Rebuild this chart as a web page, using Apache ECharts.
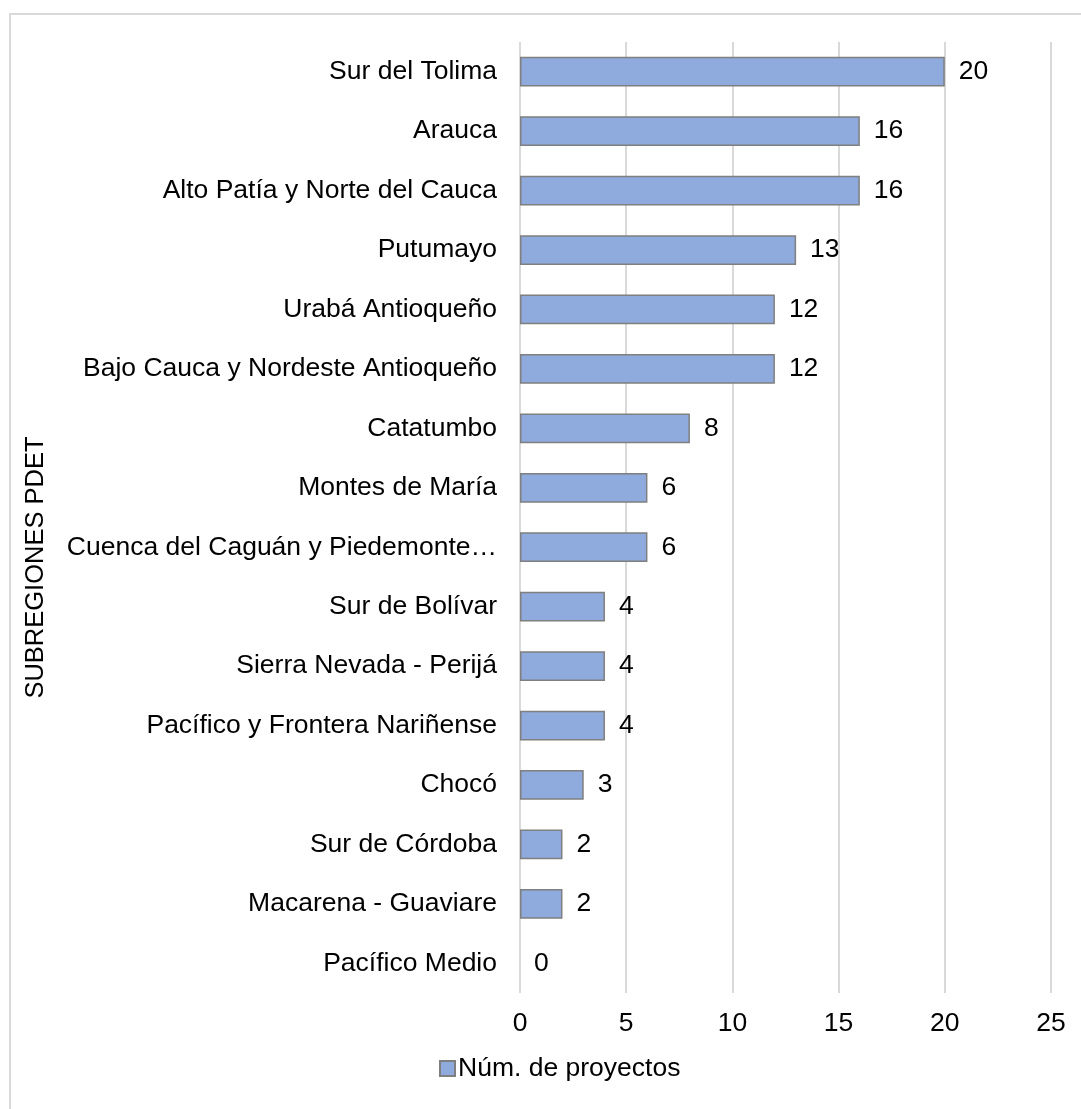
<!DOCTYPE html>
<html>
<head>
<meta charset="utf-8">
<script src="https://cdn.jsdelivr.net/npm/echarts@6/dist/echarts.min.js"></script>
<style>
html,body{margin:0;padding:0;background:#fff;}
#frame{position:absolute;left:9px;top:13px;width:1080px;height:1100px;border-left:2px solid #d9d9d9;border-top:2px solid #d9d9d9;}
#chart{position:absolute;left:0;top:0;width:1081px;height:1109px;}
</style>
</head>
<body>
<div id="frame"></div>
<div id="chart"></div>
<script>
var categories = ["Sur del Tolima","Arauca","Alto Patía y Norte del Cauca","Putumayo","Urabá Antioqueño","Bajo Cauca y Nordeste Antioqueño","Catatumbo","Montes de María","Cuenca del Caguán y Piedemonte…","Sur de Bolívar","Sierra Nevada - Perijá","Pacífico y Frontera Nariñense","Chocó","Sur de Córdoba","Macarena - Guaviare","Pacífico Medio"];
var values = [20,16,16,13,12,12,8,6,6,4,4,4,3,2,2,0];
var seriesName = "Núm. de proyectos";
var axisTitle = "SUBREGIONES PDET";

var barData = values.map(function (v) {
  return v === 0 ? {value: v, itemStyle: {borderWidth: 0}} : v;
});

var chart = echarts.init(document.getElementById('chart'));
var font = 'Liberation Sans, Arial, sans-serif';
var fs = 26.5;
chart.setOption({
  backgroundColor: 'transparent',
  animation: false,
  grid: {left: 520, right: 30, top: 42, bottom: 116},
  legend: {
    bottom: 22, left: 434,
    itemWidth: 15, itemHeight: 15, itemGap: 4,
    icon: 'rect',
    textStyle: {fontFamily: font, fontSize: fs, color: '#000', padding: [0,0,0,-2]},
    data: [seriesName]
  },
  xAxis: {
    type: 'value', min: 0, max: 25, interval: 5,
    axisLine: {show: false},
    axisTick: {show: false},
    splitLine: {show: true, lineStyle: {color: '#d9d9d9', width: 2}},
    axisLabel: {fontFamily: font, fontSize: fs, color: '#000', margin: 17}
  },
  yAxis: {
    type: 'category', inverse: true, data: categories,
    name: axisTitle, nameLocation: 'middle', nameGap: 471, nameRotate: 90,
    nameTextStyle: {fontFamily: font, fontSize: 25.5, color: '#000', padding: [0, 100, 0, 0]},
    axisLine: {show: false},
    axisTick: {show: false},
    axisLabel: {fontFamily: font, fontSize: fs, color: '#000', margin: 23}
  },
  series: [{
    name: seriesName, type: 'bar', data: barData,
    barCategoryGap: '50%',
    itemStyle: {color: '#8faadc', borderColor: '#7f7f7f', borderWidth: 1.5},
    label: {show: true, position: 'right', distance: 14, fontFamily: font, fontSize: fs, color: '#000'}
  }]
});
</script>
</body>
</html>
